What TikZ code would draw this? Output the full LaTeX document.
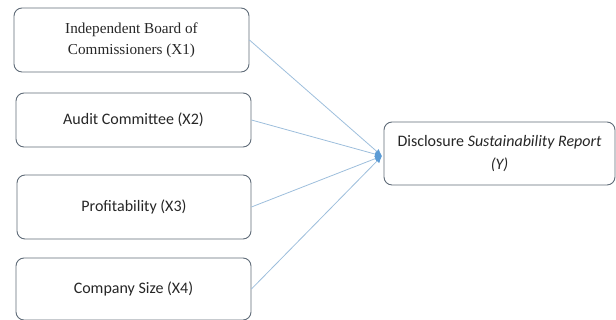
\documentclass[tikz,border=0pt]{standalone}
\usepackage{fontspec}
\setmainfont{Carlito}
\newfontfamily\timesfont{Liberation Serif}
\usetikzlibrary{arrows.meta}
\definecolor{boxline}{HTML}{5F6B78}
\definecolor{conn}{HTML}{9DBEDC}
\definecolor{tipc}{HTML}{5B9BD5}
\tikzset{
  var/.style={draw=boxline, line width=0.9pt, rounded corners=8pt, align=center, inner sep=0pt, font=\fontsize{16}{20}\selectfont, text=black!85},
  conn/.style={draw=conn, line width=0.8pt, -{Latex[length=7pt,width=6pt,fill=tipc,color=tipc]}}
}
\begin{document}
\begin{tikzpicture}[x=1pt,y=1pt]
\useasboundingbox (0,0) rectangle (616,320);
\node[var, minimum width=235pt, minimum height=64pt, font=\timesfont\fontsize{15.2}{21}\selectfont] (b1) at (131.5,280) {Independent Board of\\Commissioners (X1)};
\node[var, minimum width=235pt, minimum height=54pt] (b2) at (133.5,200) {Audit Committee (X2)};
\node[var, minimum width=234pt, minimum height=64pt] (b3) at (134,113) {Profitability (X3)};
\node[var, minimum width=235pt, minimum height=62pt] (b4) at (133.5,31) {Company Size (X4)};
\node[var, minimum width=231pt, minimum height=63pt, font=\fontsize{16}{23}\selectfont] (y) at (499.5,166.5) {Disclosure \textit{Sustainability Report}\\\textit{(Y)}};
\coordinate (tip) at (382,164);
\draw[conn] (b1.east) -- (tip);
\draw[conn] (b2.east) -- (tip);
\draw[conn] (b3.east) -- (tip);
\draw[conn] (b4.east) -- (tip);
\end{tikzpicture}
\end{document}
